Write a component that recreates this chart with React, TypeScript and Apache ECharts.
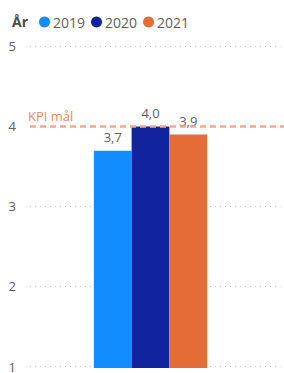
import React, { useEffect, useRef } from "react";
import * as echarts from "echarts";

const categories = [""];
const seriesNames = ["2019", "2020", "2021"];
const values2019 = [3.7];
const values2020 = [4.0];
const values2021 = [3.9];
const colors = ["#118DFF", "#12239E", "#E66C37"];
const kpiValue = 4;
const kpiLabel = "KPI mål";
const legendTitle = "År";

const FONT = "'Open Sans', 'Noto Sans', sans-serif";

export default function App() {
  const ref = useRef<HTMLDivElement>(null);
  useEffect(() => {
    if (!ref.current) return;
    const chart = echarts.init(ref.current, undefined, { renderer: "svg" });
    const fmt = (p: any) => Number(p.value).toFixed(1).replace(".", ",");
    const barSeries = [values2019, values2020, values2021].map((vals, i) => ({
      name: seriesNames[i],
      type: "bar",
      xAxisIndex: 1,
      yAxisIndex: 1,
      data: vals,
      barGap: "0%",
      barCategoryGap: "53%",
      itemStyle: { color: colors[i] },
      label: {
        show: true,
        position: "top",
        distance: 7,
        formatter: fmt,
        color: "#605E5C",
        fontSize: 13,
        fontFamily: FONT,
      },
      z: 2,
    }));
    chart.setOption({
      animation: false,
      title: {
        text: legendTitle,
        left: 7,
        top: 9,
        textStyle: { fontSize: 14, fontWeight: "bold", color: "#4A4A4A", fontFamily: FONT },
      },
      legend: {
        data: seriesNames,
        left: 34,
        top: 10,
        icon: "circle",
        itemWidth: 11,
        itemHeight: 11,
        itemGap: 6,
        textStyle: { fontSize: 14, color: "#605E5C", fontFamily: FONT, padding: [0, 0, 0, -2] },
      },
      grid: [
        { left: 30, right: 0, top: 46, bottom: 5 },
        { left: 30, right: 13, top: 46, bottom: 5 },
      ],
      xAxis: [
        { type: "category", gridIndex: 0, data: categories, show: false },
        { type: "category", gridIndex: 1, data: categories, show: false },
      ],
      yAxis: [
        {
          type: "value",
          gridIndex: 0,
          min: 1,
          max: 5,
          interval: 1,
          axisLine: { show: false },
          axisTick: { show: false },
          axisLabel: {
            color: "#605E5C",
            fontSize: 13,
            fontFamily: FONT,
            margin: 14,
            align: "right",
          },
          splitLine: { lineStyle: { color: "#C8C6C4", type: [1, 4], width: 1 } },
        },
        {
          type: "value",
          gridIndex: 1,
          min: 1,
          max: 5,
          interval: 1,
          show: false,
          splitLine: { show: false },
        },
      ],
      series: [
        ...barSeries,
        {
          name: "kpi",
          type: "line",
          xAxisIndex: 0,
          yAxisIndex: 0,
          data: ["-"],
          symbol: "none",
          silent: true,
          z: 5,
          markLine: {
            silent: true,
            symbol: "none",
            z: 5,
            lineStyle: { color: "#F2A88A", type: [6, 4], width: 2.5 },
            label: {
              show: true,
              position: "insideStartTop",
              formatter: kpiLabel,
              color: "#EE8A62",
              fontSize: 13,
              fontFamily: FONT,
              distance: [-2, 4],
            },
            data: [{ yAxis: kpiValue }],
          },
        },
      ],
    });
    return () => chart.dispose();
  }, []);
  return <div ref={ref} style={{ width: 284, height: 373, position: "absolute", left: 0, top: 0 }} />;
}
